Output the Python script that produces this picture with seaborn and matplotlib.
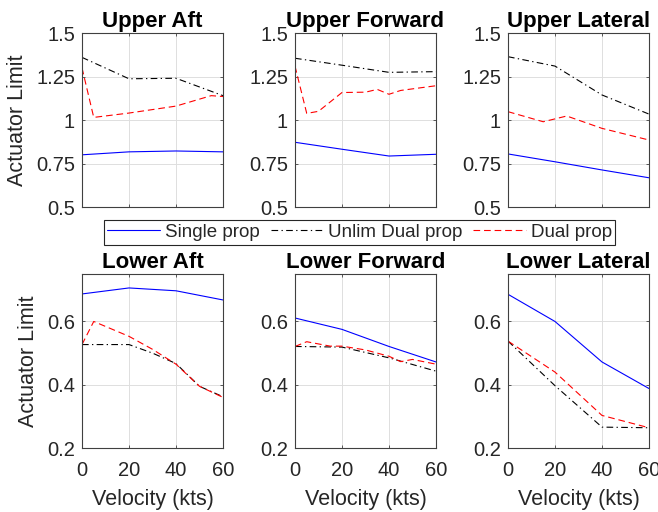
import matplotlib
matplotlib.use("Agg")
import matplotlib.pyplot as plt
import seaborn as sns

# Velocity grid (kts) shared by most series
VEL = [0, 20, 40, 60]

# Upper Aft
ua_single = [0.80, 0.817, 0.822, 0.817]
ua_unlim = [1.36, 1.237, 1.24, 1.14]
ua_dual_x = [0, 5, 20, 40, 55, 60]
ua_dual = [1.30, 1.015, 1.04, 1.08, 1.14, 1.135]

# Upper Forward
uf_single = [0.872, 0.832, 0.793, 0.803]
uf_unlim = [1.355, 1.315, 1.274, 1.278]
uf_dual_x = [0, 5, 10, 20, 30, 35, 40, 45, 60]
uf_dual = [1.31, 1.038, 1.05, 1.158, 1.16, 1.176, 1.148, 1.17, 1.197]

# Upper Lateral
ul_single = [0.805, 0.76, 0.713, 0.668]
ul_unlim = [1.364, 1.31, 1.144, 1.034]
ul_dual_x = [0, 15, 25, 40, 60]
ul_dual = [1.048, 0.99, 1.023, 0.952, 0.885]

# Lower Aft
la_single = [0.687, 0.706, 0.697, 0.668]
la_unlim_x = [0, 20, 30, 40, 50, 60]
la_unlim = [0.527, 0.527, 0.50, 0.467, 0.395, 0.362]
la_dual_x = [0, 5, 20, 30, 40, 50, 60]
la_dual = [0.527, 0.60, 0.553, 0.512, 0.465, 0.395, 0.36]

# Lower Forward
lf_single = [0.611, 0.575, 0.521, 0.472]
lf_unlim = [0.521, 0.519, 0.485, 0.443]
lf_dual_x = [0, 5, 15, 20, 30, 40, 45, 50, 60]
lf_dual = [0.521, 0.536, 0.522, 0.522, 0.51, 0.49, 0.473, 0.48, 0.465]

# Lower Lateral
ll_single = [0.686, 0.60, 0.472, 0.388]
ll_unlim = [0.538, 0.397, 0.266, 0.264]
ll_dual = [0.538, 0.44, 0.303, 0.264]

titles = ["Upper Aft", "Upper Forward", "Upper Lateral",
          "Lower Aft", "Lower Forward", "Lower Lateral"]
panels = [
    (VEL, ua_single, VEL, ua_unlim, ua_dual_x, ua_dual),
    (VEL, uf_single, VEL, uf_unlim, uf_dual_x, uf_dual),
    (VEL, ul_single, VEL, ul_unlim, ul_dual_x, ul_dual),
    (VEL, la_single, la_unlim_x, la_unlim, la_dual_x, la_dual),
    (VEL, lf_single, VEL, lf_unlim, lf_dual_x, lf_dual),
    (VEL, ll_single, VEL, ll_unlim, VEL, ll_dual),
]
labels = ["Single prop", "Unlim Dual prop", "Dual prop"]

sns.set_theme(style="ticks")
plt.rcParams['font.family'] = ['Liberation Sans', 'DejaVu Sans']
plt.rcParams['axes.edgecolor'] = '#404040'
plt.rcParams['axes.linewidth'] = 0.8

fig = plt.figure(figsize=(6.58, 5.12), dpi=100)

lefts = [0.1246, 0.4483, 0.7720]
bottoms = [0.5957, 0.125]
w, h = 0.2143, 0.3398

styles = [
    dict(color=(0, 0, 1), linestyle='-'),
    dict(color='black', linestyle=(0, (6, 3, 1.2, 3))),
    dict(color=(1, 0, 0), linestyle=(0, (6, 3.5))),
]

handles = []
for i, (title, data) in enumerate(zip(titles, panels)):
    row, col = divmod(i, 3)
    ax = fig.add_axes([lefts[col], bottoms[row], w, h])
    xs = data[0::2]
    ys = data[1::2]
    for k in range(3):
        sns.lineplot(x=xs[k], y=ys[k], ax=ax, lw=0.8, legend=False,
                     label=labels[k], **styles[k])
    if i == 0:
        handles = ax.get_lines()[:3]

    ax.set_xlim(0, 60)
    ax.set_xticks([0, 20, 40, 60])
    if row == 0:
        ax.set_ylim(0.5, 1.5)
        ax.set_yticks([0.5, 0.75, 1, 1.25, 1.5])
        ax.set_yticklabels(["0.5", "0.75", "1", "1.25", "1.5"])
        ax.set_xticklabels([])
        ax.set_xlabel("")
    else:
        ax.set_ylim(0.2, 0.75)
        ax.set_yticks([0.2, 0.4, 0.6])
        ax.set_yticklabels(["0.2", "0.4", "0.6"])
        ax.set_xlabel("Velocity (kts)", fontsize=15.5, color='#262626', labelpad=7)
    if col == 0:
        ax.set_ylabel("Actuator Limit", fontsize=15.5, color='#262626', labelpad=6)
    else:
        ax.set_ylabel("")

    ax.set_title(title, fontsize=16, fontweight='bold', pad=4, color='black')
    ax.grid(True, color='#dedede', lw=0.7)
    ax.set_axisbelow(True)
    for s in ax.spines.values():
        s.set_visible(True)
    ax.tick_params(direction='in', length=2.5, width=0.6, top=True, right=True,
                   labelsize=14.5, pad=5, colors='#404040')
    ax.tick_params(axis='both', labelcolor='#262626')
    ax.tick_params(axis='x', pad=9)

leg = fig.legend(handles, labels, loc='center', bbox_to_anchor=(0.5464, 0.546),
                 ncol=3, fontsize=13.5, frameon=True, fancybox=False,
                 edgecolor='#262626', framealpha=1, handlelength=2.8,
                 handletextpad=0.25, columnspacing=0.6, borderpad=0.2,
                 borderaxespad=0)
leg.get_frame().set_linewidth(0.8)

plt.savefig("out.png", dpi=100)
